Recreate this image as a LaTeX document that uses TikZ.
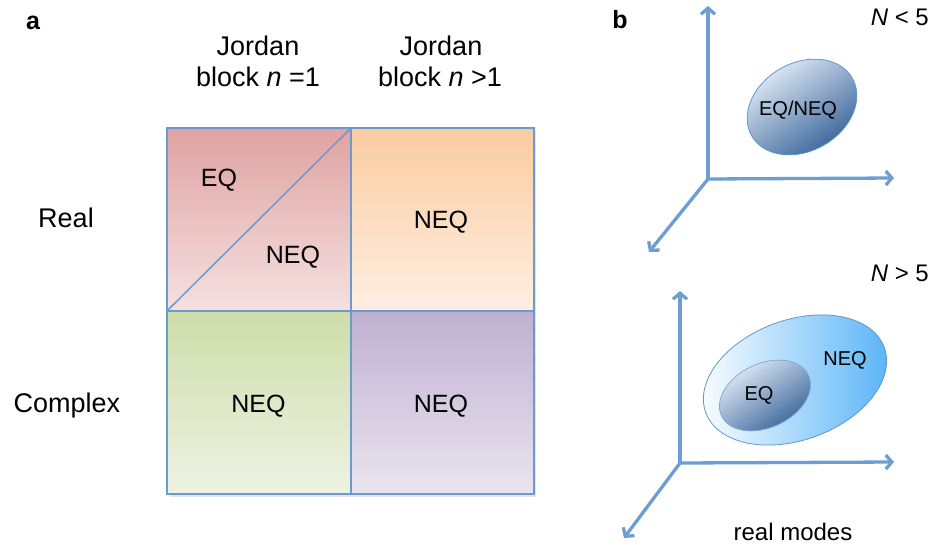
\documentclass[tikz,border=0pt]{standalone}
\usepackage{fontspec}
\setmainfont{Liberation Sans}
\usetikzlibrary{arrows.meta,shapes.geometric}
\definecolor{gridline}{HTML}{6A9ACF}
\definecolor{axiscol}{HTML}{6C9DD3}
\definecolor{tltop}{HTML}{DFA3A2}
\definecolor{tlbot}{HTML}{F5E0E0}
\definecolor{trtop}{HTML}{FBCBA0}
\definecolor{trbot}{HTML}{FEEFE2}
\definecolor{bltop}{HTML}{CEDDA9}
\definecolor{blbot}{HTML}{EEF2E3}
\definecolor{brtop}{HTML}{BFB0D1}
\definecolor{brbot}{HTML}{E9E5EF}
\definecolor{ellight}{HTML}{E8F0FA}
\definecolor{eldark}{HTML}{2C5A92}
\definecolor{skyblue}{HTML}{55B2F6}
\definecolor{elborder}{HTML}{5E97D0}
\tikzset{
  cell/.style={rectangle, draw=none, minimum width=184pt, minimum height=183pt, inner sep=0pt},
  head/.style={font=\fontsize{27}{30}\selectfont, anchor=base, inner sep=0pt},
  lab/.style={font=\fontsize{25}{28}\selectfont, anchor=base, inner sep=0pt},
  blab/.style={font=\fontsize{20}{24}\selectfont, anchor=base, inner sep=0pt},
  panel/.style={font=\fontsize{25}{28}\selectfont\bfseries, anchor=base, inner sep=0pt},
  axis/.style={draw=axiscol, line width=3.3pt, -{Straight Barb[length=6pt,width=14pt]}},
}
\begin{document}
\begin{tikzpicture}[x=1pt,y=-1pt]
\useasboundingbox (0,0) rectangle (932,544);
% panel labels
\node[panel] (pa) at (33,29) {a};
\node[panel] (pb) at (620,28) {b};
% headers
\node[head] (h1a) at (258,55) {Jordan};
\node[head] (h1b) at (258,86) {block \textit{n} =1};
\node[head] (h2a) at (441,55) {Jordan};
\node[head] (h2b) at (440,86) {block \textit{n} >1};
\node[head] (rreal) at (66,227) {Real};
\node[head] (rcomp) at (67,412) {Complex};
% shadow
\fill[black!25, opacity=0.4] (169.5,130.5) rectangle (535.5,496.5);
% cells
\node[cell, top color=tltop, bottom color=tlbot] (tl) at (259,219.5) {};
\node[cell, top color=trtop, bottom color=trbot] (tr) at (442,219.5) {};
\node[cell, top color=bltop, bottom color=blbot] (bl) at (259,402.5) {};
\node[cell, top color=brtop, bottom color=brbot] (br) at (442,402.5) {};
\draw[gridline, line width=1.5pt] (tl.north west) rectangle (br.south east);
\draw[gridline, line width=1.5pt] (tl.north east) -- (bl.south east);
\draw[gridline, line width=1.5pt] (tl.south west) -- (tr.south east);
\draw[gridline, line width=1.5pt] (tl.south west) -- (tl.north east);
% cell labels
\node[lab] (eq1) at (219,186) {EQ};
\node[lab] (neq1) at (293,263) {NEQ};
\node[lab] (neq2) at (441,228) {NEQ};
\node[lab] (neq3) at (258.5,412) {NEQ};
\node[lab] (neq4) at (441,412) {NEQ};
% panel b top
\coordinate (o1) at (708,179);
\coordinate (y1) at (708,6);
\coordinate (x1) at (894,178);
\coordinate (z1) at (649,252);
\draw[axis] (o1) -- (y1);
\draw[axis] (o1) -- (x1);
\draw[axis] (o1) -- (z1);
\path[draw=elborder, line width=0.8pt, top color=ellight, bottom color=eldark, shading angle=35]
  (802,107) ellipse [x radius=58, y radius=44, rotate=30];
\node[blab] (eqneq) at (798,115) {EQ/NEQ};
\node[font=\fontsize{24}{28}\selectfont, anchor=base east, inner sep=0pt] (nl) at (929,25) {\textit{N} < 5};
% panel b bottom
\coordinate (o2) at (680,463);
\coordinate (y2) at (680,291);
\coordinate (x2) at (894,462);
\coordinate (z2) at (624,538);
\draw[axis] (o2) -- (y2);
\draw[axis] (o2) -- (x2);
\draw[axis] (o2) -- (z2);
\path[draw=elborder, line width=0.8pt, left color=white, right color=skyblue]
  (795,380) ellipse [x radius=95, y radius=60, rotate=20];
\path[draw=elborder!80, line width=0.8pt, top color=ellight, bottom color=eldark, shading angle=35]
  (765,395.5) ellipse [x radius=48, y radius=32, rotate=25];
\node[blab] (eq2) at (759,400) {EQ};
\node[blab] (neq5) at (845,365) {NEQ};
\node[font=\fontsize{24}{28}\selectfont, anchor=base east, inner sep=0pt] (ng) at (929,281) {\textit{N} > 5};
\node[font=\fontsize{24}{28}\selectfont, anchor=base, inner sep=0pt] (rm) at (793,540) {real modes};
\end{tikzpicture}
\end{document}
